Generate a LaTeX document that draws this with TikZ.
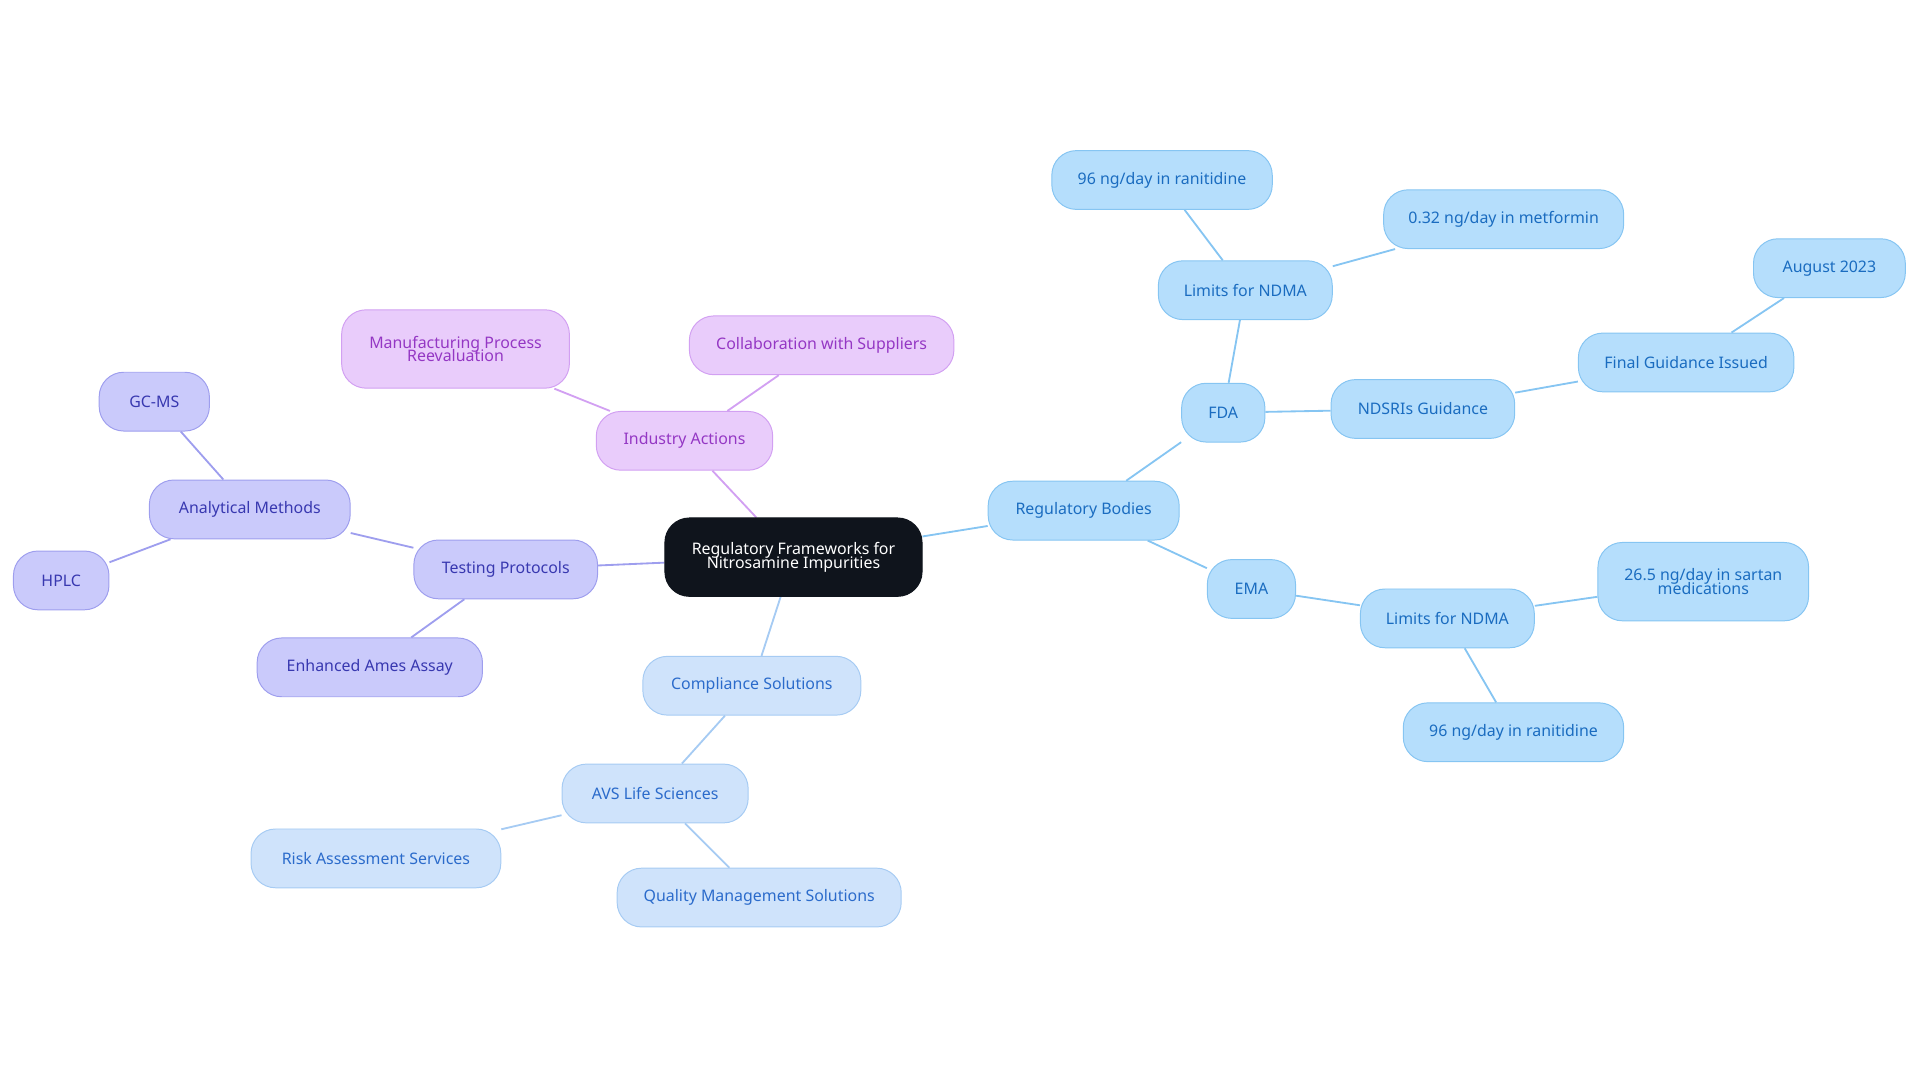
\documentclass[tikz,border=0pt]{standalone}
\usepackage{fontspec}
\setmainfont{Noto Sans}
\usetikzlibrary{backgrounds}
\definecolor{bF}{HTML}{B5DEFC}\definecolor{bD}{HTML}{86C5F2}\definecolor{bT}{HTML}{1A6CC0}
\definecolor{lF}{HTML}{CFE3FB}\definecolor{lD}{HTML}{A6CBF3}\definecolor{lT}{HTML}{2B6BCB}
\definecolor{pF}{HTML}{CACAFB}\definecolor{pD}{HTML}{9E9EEE}\definecolor{pT}{HTML}{3838B0}
\definecolor{vF}{HTML}{E9CCFB}\definecolor{vD}{HTML}{D2A0F2}\definecolor{vT}{HTML}{9437C4}
\definecolor{cF}{HTML}{0F141C}
\begin{document}
\begin{tikzpicture}[x=1pt,y=-1pt,
 box/.style={rounded corners=20pt,minimum height=48pt,align=center,font=\fontsize{13}{13}\selectfont,line width=0.8pt},
 bn/.style={box,fill=bF,draw=bD,text=bT},
 ln/.style={box,fill=lF,draw=lD,text=lT},
 pn/.style={box,fill=pF,draw=pD,text=pT},
 vn/.style={box,fill=vF,draw=vD,text=vT},
 be/.style={draw=bD,line width=1.5pt},
 le/.style={draw=lD,line width=1.5pt},
 pe/.style={draw=pD,line width=1.5pt},
 ve/.style={draw=vD,line width=1.5pt}]
\useasboundingbox (0,0) rectangle (1568,884);
\node[box,fill=cF,draw=cF,text=white,minimum width=210pt,minimum height=64pt] (c) at (648,455) {Regulatory Frameworks for\\[-2pt]Nitrosamine Impurities};
\node[bn,minimum width=156pt] (rb) at (885,417) {Regulatory Bodies};
\node[bn,minimum width=68pt] (fda) at (999,337) {FDA};
\node[bn,minimum width=142pt] (l1) at (1017,237) {Limits for NDMA};
\node[bn,minimum width=180pt] (r1) at (949,147) {96 ng/day in ranitidine};
\node[bn,minimum width=196pt] (m1) at (1228,179) {0.32 ng/day in metformin};
\node[bn,minimum width=150pt] (nd) at (1162,334) {NDSRIs Guidance};
\node[bn,minimum width=176pt] (fg) at (1377,296) {Final Guidance Issued};
\node[bn,minimum width=124pt] (au) at (1494,219) {August 2023};
\node[bn,minimum width=72pt] (ema) at (1022,481) {EMA};
\node[bn,minimum width=142pt] (l2) at (1182,505) {Limits for NDMA};
\node[bn,minimum width=172pt,minimum height=64pt] (s2) at (1391,475) {26.5 ng/day in sartan\\[-2pt]medications};
\node[bn,minimum width=180pt] (r2) at (1236,598) {96 ng/day in ranitidine};
\node[ln,minimum width=178pt] (cs) at (614,560) {Compliance Solutions};
\node[ln,minimum width=152pt] (avs) at (535,648) {AVS Life Sciences};
\node[ln,minimum width=204pt] (ra) at (307,701) {Risk Assessment Services};
\node[ln,minimum width=232pt] (qm) at (620,733) {Quality Management Solutions};
\node[pn,minimum width=150pt] (tp) at (413,465) {Testing Protocols};
\node[pn,minimum width=164pt] (am) at (204,416) {Analytical Methods};
\node[pn,minimum width=90pt] (gc) at (126,328) {GC-MS};
\node[pn,minimum width=78pt] (hp) at (50,474) {HPLC};
\node[pn,minimum width=184pt] (ea) at (302,545) {Enhanced Ames Assay};
\node[vn,minimum width=144pt] (ia) at (559,360) {Industry Actions};
\node[vn,minimum width=186pt,minimum height=64pt] (mp) at (372,285) {Manufacturing Process\\[-2pt]Reevaluation};
\node[vn,minimum width=216pt] (co) at (671,282) {Collaboration with Suppliers};
\begin{scope}[on background layer]
\draw[be] (c) -- (rb); \draw[be] (rb) -- (fda); \draw[be] (fda) -- (l1);
\draw[be] (l1) -- (r1); \draw[be] (l1) -- (m1); \draw[be] (fda) -- (nd);
\draw[be] (nd) -- (fg); \draw[be] (fg) -- (au); \draw[be] (rb) -- (ema);
\draw[be] (ema) -- (l2); \draw[be] (l2) -- (s2); \draw[be] (l2) -- (r2);
\draw[le] (c) -- (cs); \draw[le] (cs) -- (avs); \draw[le] (avs) -- (ra); \draw[le] (avs) -- (qm);
\draw[pe] (c) -- (tp); \draw[pe] (tp) -- (am); \draw[pe] (am) -- (gc); \draw[pe] (am) -- (hp); \draw[pe] (tp) -- (ea);
\draw[ve] (c) -- (ia); \draw[ve] (ia) -- (mp); \draw[ve] (ia) -- (co);
\end{scope}
\end{tikzpicture}
\end{document}
